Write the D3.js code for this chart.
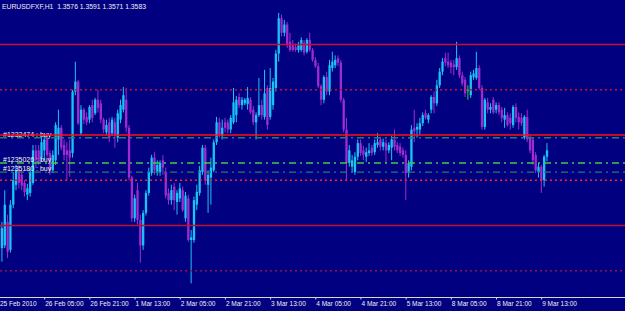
<!DOCTYPE html>
<html><head><meta charset="utf-8">
<script src="https://cdn.jsdelivr.net/npm/d3@7"></script>
<style>
html,body{margin:0;padding:0;background:#000080;overflow:hidden}
svg{display:block}
text{font-family:"Liberation Sans",Arial,sans-serif;white-space:pre}
</style></head><body>
<svg id="chart" width="625" height="311"></svg>
<script>
// ---------- DATA ----------
const chartTitle = "EURUSDFXF,H1  1.3576 1.3591 1.3571 1.3583";

const opens = [
1.3501,1.3475,1.3478,1.3504,1.3473,1.3523,1.3545,1.3561,1.3556,1.3547,
1.3534,1.3536,1.3547,1.3583,1.3583,1.3575,1.3583,1.3597,1.3580,1.3561,
1.3572,1.3595,1.3608,1.3589,1.3583,1.3583,1.3580,1.3648,1.3659,1.3602,
1.3628,1.3620,1.3617,1.3633,1.3624,1.3639,1.3635,1.3617,1.3603,1.3614,
1.3602,1.3614,1.3597,1.3617,1.3628,1.3639,1.3608,1.3553,1.3508,1.3539,
1.3506,1.3478,1.3514,1.3536,1.3558,1.3575,1.3559,1.3559,1.3572,1.3559,
1.3536,1.3528,1.3543,1.3526,1.3530,1.3539,1.3508,1.3530,1.3484,1.3484,
1.3523,1.3536,1.3559,1.3586,1.3545,1.3553,1.3561,1.3592,1.3614,1.3599,
1.3614,1.3614,1.3606,1.3614,1.3622,1.3642,1.3633,1.3635,1.3634,1.3639,
1.3628,1.3614,1.3622,1.3633,1.3620,1.3652,1.3620,1.3633,1.3652,1.3690,
1.3729,1.3713,1.3722,1.3703,1.3699,1.3697,1.3694,1.3694,1.3702,1.3692,
1.3705,1.3694,1.3683,1.3676,1.3654,1.3639,1.3664,1.3648,1.3674,1.3677,
1.3685,1.3680,1.3639,1.3606,1.3569,1.3565,1.3559,1.3576,1.3591,1.3583,
1.3576,1.3580,1.3586,1.3581,1.3589,1.3595,1.3587,1.3591,1.3583,1.3586,
1.3595,1.3589,1.3587,1.3583,1.3578,1.3558,1.3565,1.3608,1.3606,1.3606,
1.3613,1.3624,1.3617,1.3628,1.3642,1.3635,1.3655,1.3670,1.3685,1.3681,
1.3680,1.3678,1.3675,1.3685,1.3666,1.3661,1.3650,1.3644,1.3664,1.3663,
1.3674,1.3652,1.3609,1.3636,1.3628,1.3639,1.3628,1.3633,1.3628,1.3617,
1.3622,1.3619,1.3611,1.3631,1.3620,1.3619,1.3597,1.3620,1.3598,1.3595,
1.3578,1.3559,1.3565,1.3550,1.3576];

const highs = [
1.3504,1.3504,1.3539,1.3512,1.3528,1.3559,1.3567,1.3567,1.3561,1.3550,
1.3546,1.3564,1.3589,1.3589,1.3589,1.3598,1.3600,1.3599,1.3583,1.3583,
1.3614,1.3628,1.3611,1.3595,1.3592,1.3595,1.3650,1.3681,1.3661,1.3633,
1.3630,1.3625,1.3633,1.3639,1.3641,1.3650,1.3639,1.3619,1.3617,1.3619,
1.3620,1.3619,1.3628,1.3639,1.3653,1.3652,1.3611,1.3555,1.3534,1.3547,
1.3512,1.3517,1.3539,1.3564,1.3578,1.3581,1.3572,1.3572,1.3578,1.3564,
1.3541,1.3545,1.3547,1.3539,1.3547,1.3543,1.3537,1.3534,1.3495,1.3532,
1.3545,1.3566,1.3589,1.3589,1.3561,1.3575,1.3595,1.3620,1.3619,1.3617,
1.3619,1.3617,1.3622,1.3652,1.3643,1.3646,1.3642,1.3641,1.3653,1.3642,
1.3632,1.3625,1.3663,1.3639,1.3672,1.3655,1.3674,1.3663,1.3694,1.3735,
1.3733,1.3727,1.3725,1.3713,1.3705,1.3701,1.3703,1.3708,1.3705,1.3707,
1.3713,1.3696,1.3686,1.3680,1.3656,1.3666,1.3670,1.3683,1.3692,1.3688,
1.3688,1.3683,1.3641,1.3619,1.3589,1.3578,1.3581,1.3595,1.3595,1.3588,
1.3586,1.3591,1.3589,1.3595,1.3602,1.3598,1.3596,1.3595,1.3592,1.3599,
1.3606,1.3592,1.3591,1.3586,1.3583,1.3572,1.3611,1.3628,1.3613,1.3619,
1.3625,1.3628,1.3624,1.3644,1.3648,1.3661,1.3674,1.3685,1.3691,1.3691,
1.3683,1.3683,1.3703,1.3688,1.3670,1.3664,1.3655,1.3670,1.3672,1.3692,
1.3677,1.3655,1.3641,1.3641,1.3635,1.3642,1.3636,1.3636,1.3631,1.3630,
1.3625,1.3624,1.3633,1.3635,1.3625,1.3624,1.3622,1.3628,1.3600,1.3597,
1.3581,1.3569,1.3567,1.3578,1.3591];

const lows = [
1.3473,1.3460,1.3475,1.3464,1.3470,1.3519,1.3539,1.3541,1.3539,1.3532,
1.3528,1.3532,1.3545,1.3564,1.3567,1.3570,1.3572,1.3575,1.3556,1.3558,
1.3567,1.3578,1.3583,1.3572,1.3550,1.3554,1.3575,1.3644,1.3611,1.3600,
1.3612,1.3611,1.3613,1.3614,1.3622,1.3625,1.3613,1.3602,1.3600,1.3592,
1.3599,1.3586,1.3592,1.3613,1.3625,1.3603,1.3550,1.3504,1.3504,1.3501,
1.3459,1.3473,1.3511,1.3533,1.3555,1.3556,1.3555,1.3555,1.3556,1.3530,
1.3523,1.3523,1.3517,1.3512,1.3526,1.3515,1.3504,1.3482,1.3436,1.3481,
1.3517,1.3533,1.3556,1.3545,1.3514,1.3523,1.3559,1.3589,1.3597,1.3595,
1.3603,1.3602,1.3602,1.3612,1.3614,1.3630,1.3628,1.3633,1.3628,1.3623,
1.3611,1.3595,1.3620,1.3617,1.3617,1.3606,1.3617,1.3628,1.3648,1.3681,
1.3709,1.3709,1.3696,1.3692,1.3692,1.3692,1.3691,1.3692,1.3688,1.3690,
1.3692,1.3681,1.3674,1.3652,1.3633,1.3635,1.3644,1.3644,1.3670,1.3674,
1.3676,1.3636,1.3603,1.3550,1.3565,1.3558,1.3556,1.3572,1.3577,1.3572,
1.3570,1.3577,1.3577,1.3578,1.3586,1.3583,1.3583,1.3569,1.3580,1.3572,
1.3583,1.3580,1.3577,1.3575,1.3528,1.3553,1.3561,1.3592,1.3597,1.3600,
1.3610,1.3617,1.3613,1.3624,1.3624,1.3632,1.3652,1.3666,1.3676,1.3674,
1.3668,1.3666,1.3672,1.3663,1.3654,1.3642,1.3639,1.3641,1.3661,1.3661,
1.3650,1.3606,1.3606,1.3624,1.3624,1.3623,1.3624,1.3622,1.3614,1.3608,
1.3609,1.3606,1.3608,1.3614,1.3606,1.3610,1.3595,1.3592,1.3580,1.3567,
1.3558,1.3553,1.3536,1.3543,1.3571];

const closes = [
1.3478,1.3497,1.3523,1.3471,1.3523,1.3550,1.3561,1.3547,1.3544,1.3537,
1.3541,1.3559,1.3583,1.3572,1.3570,1.3592,1.3595,1.3578,1.3561,1.3578,
1.3611,1.3608,1.3586,1.3578,1.3578,1.3575,1.3648,1.3659,1.3613,1.3628,
1.3617,1.3614,1.3631,1.3619,1.3639,1.3630,1.3617,1.3606,1.3611,1.3597,
1.3617,1.3600,1.3624,1.3633,1.3644,1.3608,1.3553,1.3508,1.3530,1.3506,
1.3478,1.3514,1.3536,1.3559,1.3575,1.3561,1.3567,1.3569,1.3564,1.3533,
1.3528,1.3539,1.3528,1.3536,1.3541,1.3517,1.3533,1.3484,1.3487,1.3528,
1.3537,1.3561,1.3586,1.3550,1.3556,1.3564,1.3592,1.3614,1.3600,1.3608,
1.3608,1.3606,1.3619,1.3636,1.3639,1.3633,1.3639,1.3639,1.3641,1.3625,
1.3614,1.3622,1.3633,1.3622,1.3646,1.3611,1.3652,1.3659,1.3690,1.3729,
1.3713,1.3722,1.3699,1.3694,1.3694,1.3694,1.3699,1.3705,1.3691,1.3705,
1.3694,1.3683,1.3676,1.3654,1.3639,1.3664,1.3648,1.3677,1.3681,1.3683,
1.3680,1.3639,1.3606,1.3569,1.3583,1.3572,1.3576,1.3591,1.3580,1.3578,
1.3581,1.3583,1.3580,1.3591,1.3592,1.3587,1.3592,1.3583,1.3589,1.3595,
1.3587,1.3583,1.3580,1.3578,1.3558,1.3569,1.3606,1.3604,1.3609,1.3613,
1.3622,1.3619,1.3622,1.3642,1.3635,1.3655,1.3670,1.3681,1.3680,1.3677,
1.3675,1.3675,1.3685,1.3666,1.3657,1.3646,1.3650,1.3666,1.3668,1.3674,
1.3652,1.3609,1.3639,1.3628,1.3631,1.3625,1.3633,1.3625,1.3619,1.3622,
1.3611,1.3613,1.3631,1.3619,1.3614,1.3613,1.3620,1.3595,1.3583,1.3572,
1.3561,1.3565,1.3550,1.3576,1.3583];

const tickBars = [0,16,32,48,64,80,96,112,128,144,160,176,192];
const tickLabels = ["25 Feb 2010","26 Feb 05:00","26 Feb 21:00","1 Mar 13:00","2 Mar 05:00",
  "2 Mar 21:00","3 Mar 13:00","4 Mar 05:00","4 Mar 21:00","5 Mar 13:00","8 Mar 05:00",
  "8 Mar 21:00","9 Mar 13:00"];

const solidLevels = [1.3700, 1.3600, 1.3500];
const solidColors = ["#c8102e", "#ff1010", "#c0102e"];
const dottedLevels = [1.3650, 1.3550, 1.3450];
const dottedColors = ["#d01020", "#ff2020", "#98104a"];

const orderLabels = ["#1232474 : buy", "#1235026 : buy", "#1235180 : buy"];
const orderPrices = [1.3597, 1.3569, 1.3559];
const orderColors = ["#2f7a5a", "#3cd03c", "#2f7a5a"];

// ---------- LAYOUT ----------
const W = 625, H = 311, axisY = 297;
const svg = d3.select("#chart");
svg.append("rect").attr("width", W).attr("height", H).attr("fill", "#000080");

const x = d3.scaleLinear().domain([0, 192]).range([-1, 541.2]);
const y = d3.scaleLinear().domain([1.3500, 1.3700]).range([225.5, 44.5]);

const bars = opens.map((o, i) => ({i, o, h: highs[i], l: lows[i], c: closes[i]}));
const colorOf = d => d.c > d.o ? "#18c4f6" : (d.c < d.o ? "#a02cd0" : "#22dd22");

// candles
const g = svg.append("g");
g.selectAll("line.wick").data(bars).join("line")
  .attr("class", "wick")
  .attr("x1", d => x(d.i) + 0.1).attr("x2", d => x(d.i) + 0.1)
  .attr("y1", d => y(d.h)).attr("y2", d => y(d.l))
  .attr("stroke", colorOf).attr("stroke-width", 1);
g.selectAll("rect.body").data(bars).join("rect")
  .attr("class", "body")
  .attr("x", d => x(d.i) - 1).attr("width", 2.3)
  .attr("y", d => y(Math.max(d.o, d.c)))
  .attr("height", d => Math.max(1, Math.abs(y(d.o) - y(d.c))))
  .attr("fill", colorOf);

// order labels (drawn beneath the lines)
svg.selectAll("text.order").data(orderPrices).join("text")
  .attr("class", "order")
  .attr("x", 3).attr("y", d => y(d) - 1)
  .attr("fill", "#f2f2f2").attr("font-size", 7)
  .text((d, k) => orderLabels[k]);

// horizontal level lines
svg.selectAll("line.solid").data(solidLevels).join("line")
  .attr("class", "solid")
  .attr("x1", 0).attr("x2", W)
  .attr("y1", d => y(d)).attr("y2", d => y(d))
  .attr("stroke", (d, k) => solidColors[k]).attr("stroke-width", 1.3);
svg.selectAll("line.dotted").data(dottedLevels).join("line")
  .attr("class", "dotted")
  .attr("x1", 0).attr("x2", W)
  .attr("y1", d => y(d)).attr("y2", d => y(d))
  .attr("stroke", (d, k) => dottedColors[k]).attr("stroke-width", 1.5)
  .attr("stroke-dasharray", "2,3");
svg.selectAll("line.order").data(orderPrices).join("line")
  .attr("class", "order")
  .attr("x1", 0).attr("x2", W)
  .attr("y1", d => y(d)).attr("y2", d => y(d))
  .attr("stroke", (d, k) => orderColors[k]).attr("stroke-width", 1.4)
  .attr("stroke-dasharray", "7,4,2,4");

// title
svg.append("text").attr("x", 2).attr("y", 8.5)
  .attr("fill", "#f0f0f0").attr("font-size", 6.8)
  .text(chartTitle);

// time axis
svg.append("line").attr("x1", 0).attr("x2", W).attr("y1", axisY + 0.5).attr("y2", axisY + 0.5)
  .attr("stroke", "#d8d8d8").attr("stroke-width", 1);
const axis = d3.axisBottom(x).tickValues(tickBars)
  .tickFormat((d, k) => tickLabels[k]).tickSize(2).tickPadding(0);
const ax = svg.append("g").attr("transform", `translate(0,${axisY + 0.5})`).call(axis);
ax.select(".domain").remove();
ax.selectAll(".tick line").attr("stroke", "#d8d8d8");
ax.selectAll(".tick text")
  .attr("fill", "#f0f0f0").attr("font-size", 6.5)
  .attr("font-family", "Liberation Sans, Arial, sans-serif")
  .attr("text-anchor", "start").attr("x", 0.5).attr("y", 4).attr("dy", "0.71em");
</script>
</body></html>
